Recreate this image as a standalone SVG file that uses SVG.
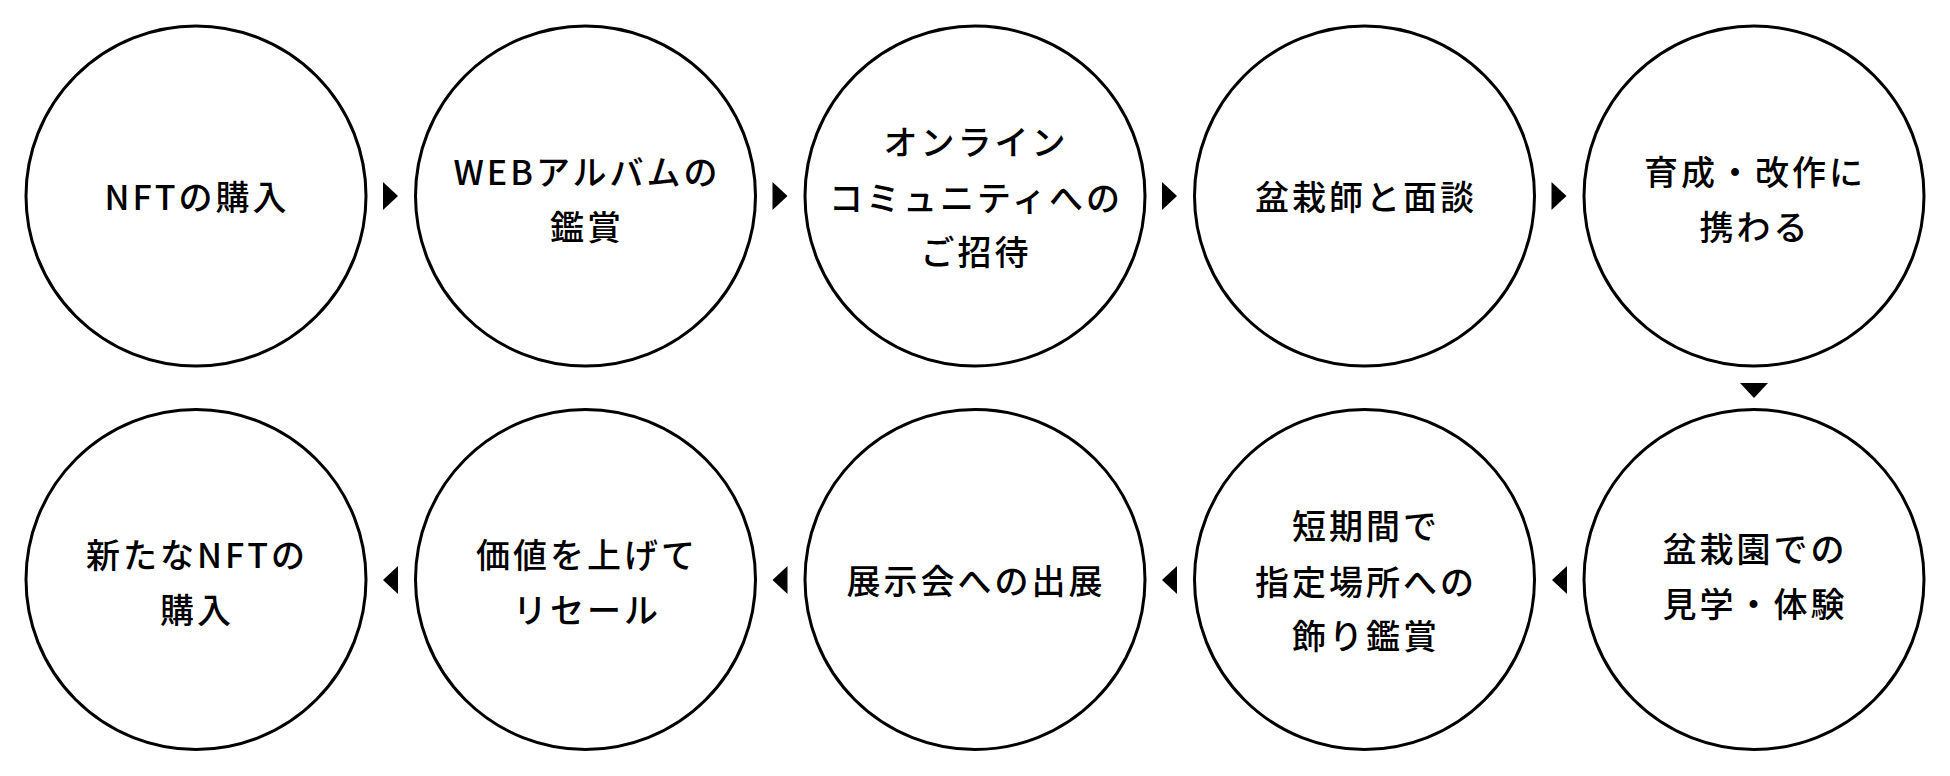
<svg xmlns="http://www.w3.org/2000/svg" width="1950" height="776" viewBox="0 0 1950 776">
<style>
.n circle{fill:#fff;stroke:#000;stroke-width:3}
.n text{font-family:"Noto Sans CJK JP","Noto Sans",sans-serif;font-size:34px;font-weight:500;letter-spacing:3px;text-anchor:middle;fill:#000}
.c path{fill:#000}
</style>
<rect width="1950" height="776" fill="#fff"/>
<g id="connectors" class="c">
<path d="M383,182 L398,196 L383,210 Z"/>
<path d="M772.5,182 L787.5,196 L772.5,210 Z"/>
<path d="M1162,182 L1177,196 L1162,210 Z"/>
<path d="M1551.5,182 L1566.5,196 L1551.5,210 Z"/>
<path d="M1740,383 L1768,383 L1754,398 Z"/>
<path d="M1567,566 L1552,580 L1567,594 Z"/>
<path d="M1177,566 L1162,580 L1177,594 Z"/>
<path d="M787.5,566 L772.5,580 L787.5,594 Z"/>
<path d="M398,566 L383,580 L398,594 Z"/>
</g>
<g id="n1" class="n"><circle cx="196" cy="196" r="170"/><text x="197" y="210">NFTの購入</text></g>
<g id="n2" class="n"><circle cx="585.5" cy="196" r="170"/><text x="587" y="185">WEBアルバムの</text><text x="587" y="240">鑑賞</text></g>
<g id="n3" class="n"><circle cx="975" cy="196" r="170"/><text x="976" y="155">オンライン</text><text x="976" y="211">コミュニティへの</text><text x="976" y="265">ご招待</text></g>
<g id="n4" class="n"><circle cx="1364.5" cy="196" r="170"/><text x="1366" y="210">盆栽師と面談</text></g>
<g id="n5" class="n"><circle cx="1754" cy="196" r="170"/><text x="1755" y="185">育成・改作に</text><text x="1755" y="240">携わる</text></g>
<g id="n6" class="n"><circle cx="1754" cy="579.5" r="170"/><text x="1755" y="562">盆栽園での</text><text x="1755" y="617">見学・体験</text></g>
<g id="n7" class="n"><circle cx="1364.5" cy="579.5" r="170"/><text x="1366" y="539">短期間で</text><text x="1366" y="595">指定場所への</text><text x="1366" y="649">飾り鑑賞</text></g>
<g id="n8" class="n"><circle cx="975" cy="579.5" r="170"/><text x="976" y="594">展示会への出展</text></g>
<g id="n9" class="n"><circle cx="585.5" cy="579.5" r="170"/><text x="587" y="568">価値を上げて</text><text x="587" y="623">リセール</text></g>
<g id="n10" class="n"><circle cx="196" cy="579.5" r="170"/><text x="197" y="568">新たなNFTの</text><text x="197" y="623">購入</text></g>
</svg>
